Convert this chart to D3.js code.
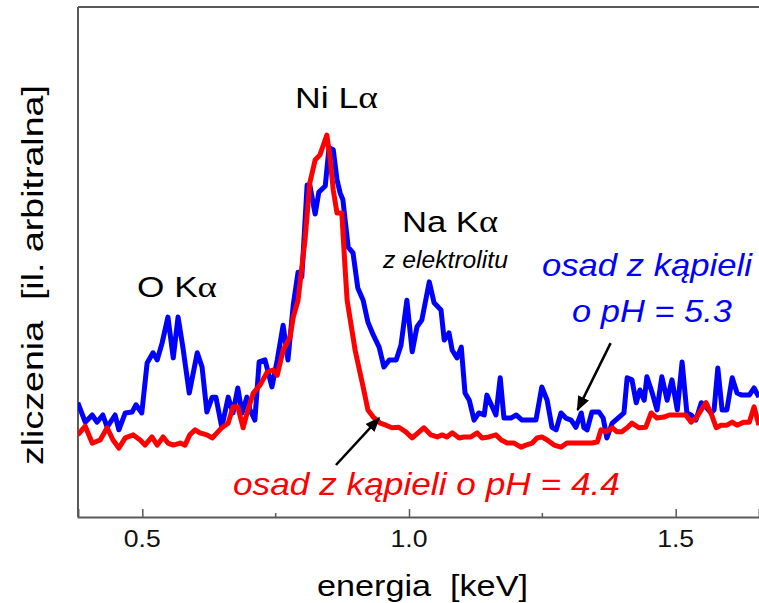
<!DOCTYPE html>
<html>
<head>
<meta charset="utf-8">
<script src="https://cdn.jsdelivr.net/npm/d3@7"></script>
<style>
  body { margin: 0; background: #fff; }
  text { font-family: "Liberation Sans", Arial, sans-serif; }
</style>
</head>
<body>
<svg id="chart" width="759" height="603"></svg>
<script>
// energy [keV] and counts [arb. units]
var blueE = [0.379,0.393,0.406,0.415,0.426,0.434,0.449,0.456,0.468,0.481,0.488,0.499,0.509,0.520,0.528,0.537,0.548,0.558,0.567,0.576,
  0.588,0.603,0.612,0.621,0.631,0.638,0.649,0.661,0.670,0.679,0.687,0.696,0.702,0.711,0.719,0.730,0.743,0.753,0.764,0.773,
  0.783,0.792,0.799,0.809,0.814,0.824,0.831,0.843,0.850,0.858,0.865,0.871,0.876,0.886,0.895,0.904,0.914,0.923,0.933,0.944,
  0.953,0.963,0.976,0.985,0.996,1.006,1.015,1.024,1.038,1.047,1.060,1.066,1.075,1.081,1.090,1.098,1.105,1.113,1.122,1.131,
  1.141,1.146,1.156,1.163,1.171,1.178,1.191,1.201,1.212,1.238,1.249,1.259,1.268,1.276,1.285,1.294,1.304,1.313,1.323,1.328,
  1.334,1.343,1.356,1.364,1.371,1.381,1.394,1.403,1.409,1.418,1.426,1.433,1.441,1.446,1.456,1.465,1.474,1.484,1.493,1.503,
  1.512,1.521,1.529,1.538,1.548,1.557,1.566,1.572,1.579,1.587,1.596,1.606,1.615,1.624,1.638,1.647,1.656];
var blueC = [22.4,18.6,20.0,18.6,20.0,17.6,20.0,17.1,20.4,20.6,22.0,20.4,30.2,32.2,30.8,34.1,39.2,31.2,39.2,33.3,
  24.3,32.2,29.4,20.6,23.5,23.5,17.6,23.5,20.4,25.3,20.4,23.5,21.0,19.0,30.4,30.8,25.5,30.8,37.6,30.8,
  41.6,48.0,47.1,65.1,65.1,59.4,63.7,64.9,72.4,72.0,66.1,63.5,62.2,52.9,51.8,44.9,42.5,38.2,35.7,33.3,
  29.4,30.8,30.8,33.7,42.5,32.4,37.3,38.6,46.1,42.0,40.6,34.7,36.1,32.7,31.2,33.3,24.3,22.9,19.0,20.4,
  20.0,23.9,21.6,20.0,27.3,19.4,19.4,20.0,19.0,19.0,25.5,22.9,17.6,17.1,20.4,19.4,19.0,17.6,20.4,17.5,
  17.1,20.6,20.6,19.4,15.5,18.4,19.6,20.4,27.3,26.9,22.4,24.9,22.9,27.5,24.3,21.0,27.5,22.9,26.9,21.0,
  30.4,20.4,20.0,19.0,22.4,21.6,20.4,21.0,29.2,21.0,21.0,27.3,24.3,23.9,23.9,25.3,23.5];

var redE = [0.379,0.393,0.406,0.421,0.434,0.445,0.456,0.468,0.483,0.496,0.505,0.518,0.528,0.539,0.548,0.558,0.571,0.580,0.589,0.599,
  0.608,0.621,0.631,0.640,0.649,0.661,0.670,0.679,0.689,0.698,0.708,0.721,0.734,0.745,0.753,0.764,0.777,0.783,0.792,0.805,
  0.814,0.824,0.833,0.846,0.852,0.858,0.865,0.874,0.880,0.884,0.899,0.914,0.923,0.933,0.946,0.957,0.968,0.981,0.994,1.006,
  1.019,1.028,1.041,1.053,1.062,1.071,1.081,1.094,1.103,1.116,1.128,1.137,1.150,1.163,1.173,1.184,1.197,1.210,1.219,1.231,
  1.240,1.249,1.259,1.272,1.285,1.296,1.309,1.332,1.343,1.353,1.360,1.369,1.381,1.390,1.399,1.409,1.418,1.431,1.444,1.454,
  1.465,1.478,1.488,1.506,1.519,1.529,1.538,1.548,1.557,1.566,1.576,1.585,1.596,1.606,1.615,1.628,1.638,1.647,1.656];
var redC = [16.1,17.8,14.5,15.1,17.5,15.1,13.5,15.5,16.1,15.1,14.1,15.7,14.1,15.7,14.5,14.1,14.5,14.1,16.1,17.1,
  16.5,16.1,15.5,16.5,17.5,18.4,21.6,21.6,17.5,21.0,24.3,25.9,28.4,28.8,27.8,32.7,35.3,39.2,42.5,54.3,
  65.5,70.0,71.0,74.9,70.4,64.1,59.6,59.6,49.0,42.5,32.7,25.5,21.0,19.6,18.4,18.0,17.5,17.6,16.7,15.5,
  16.7,17.5,16.1,15.7,16.1,15.7,16.5,15.5,15.7,15.7,16.5,15.5,15.7,16.1,15.1,14.5,14.5,13.7,14.1,14.5,
  15.5,15.7,15.1,14.1,13.7,14.5,14.5,14.5,14.5,14.7,17.1,16.7,17.5,16.7,16.7,17.5,18.4,17.5,17.6,20.4,
  19.4,19.6,20.0,20.0,20.0,18.6,19.4,21.0,22.4,20.4,17.5,18.0,18.0,18.6,18.0,18.6,18.6,21.6,18.0];

var xTicks = [0.5, 1.0, 1.5];
var xMinorTicks = [0.75, 1.25];
var xTickLabels = ["0.5", "1.0", "1.5"];

var width = 759, height = 603;
var margin = {top: 7, right: 0, bottom: 86, left: 78};
var plotW = width - margin.left - margin.right;
var plotH = height - margin.top - margin.bottom;

var svg = d3.select("#chart");

var x = d3.scaleLinear().domain([0.3794, 1.6562]).range([0, plotW]);
var y = d3.scaleLinear().domain([0, 100]).range([plotH, 0]);

var g = svg.append("g").attr("transform", "translate(" + margin.left + "," + margin.top + ")");

g.append("clipPath").attr("id", "clip")
  .append("rect").attr("width", plotW).attr("height", plotH);

// frame
var frameColor = "#5a5a5a";
g.append("line").attr("x1", 0).attr("x2", 0).attr("y1", 0).attr("y2", plotH)
  .attr("stroke", frameColor).attr("stroke-width", 2);
g.append("line").attr("x1", 0).attr("x2", plotW).attr("y1", 0).attr("y2", 0)
  .attr("stroke", frameColor).attr("stroke-width", 2);

// bottom axis, ticks pointing inwards; labels are drawn below with label()
var xAxis = d3.axisBottom(x).tickValues(xTicks).tickSize(-8).tickFormat("");
var axG = g.append("g").attr("transform", "translate(0," + plotH + ")").call(xAxis);
axG.select(".domain").attr("stroke", frameColor).attr("stroke-width", 2);
axG.selectAll(".tick line").attr("stroke", frameColor).attr("stroke-width", 1.5);

axG.selectAll(".minor").data(xMinorTicks).enter().append("line")
  .attr("class", "minor")
  .attr("x1", function(d){ return x(d); }).attr("x2", function(d){ return x(d); })
  .attr("y1", 0).attr("y2", -4)
  .attr("stroke", frameColor).attr("stroke-width", 1.5);

// spectra
var line = d3.line()
  .x(function(d){ return x(d[0]); })
  .y(function(d){ return y(d[1]); });

var lines = g.append("g").attr("clip-path", "url(#clip)");
lines.append("path").datum(d3.zip(blueE, blueC))
  .attr("d", line).attr("fill", "none")
  .attr("stroke", "#0000ff").attr("stroke-width", 5).attr("stroke-linejoin", "round");
lines.append("path").datum(d3.zip(redE, redC))
  .attr("d", line).attr("fill", "none")
  .attr("stroke", "#ff0000").attr("stroke-width", 5).attr("stroke-linejoin", "round");

// arrows
var defs = svg.append("defs");
defs.append("marker").attr("id", "arrow")
  .attr("viewBox", "0 0 10 10").attr("refX", 9).attr("refY", 5)
  .attr("markerWidth", 6).attr("markerHeight", 6).attr("orient", "auto")
  .append("path").attr("d", "M0,1 L10,5 L0,9 z").attr("fill", "#000");

var arrows = [
  {from: [0.863, 10.2], to: [0.944, 19.4]},
  {from: [1.378, 34.1], to: [1.316, 21.0]}
];
g.selectAll(".arrow").data(arrows).enter().append("line")
  .attr("class", "arrow")
  .attr("x1", function(d){ return x(d.from[0]); }).attr("y1", function(d){ return y(d.from[1]); })
  .attr("x2", function(d){ return x(d.to[0]); }).attr("y2", function(d){ return y(d.to[1]); })
  .attr("stroke", "#000").attr("stroke-width", 2.5).attr("marker-end", "url(#arrow)");

// labels: text placed at (x, baseline), stretched to the measured width
function label(parts, px, py, size, w, opts){
  opts = opts || {};
  var holder = svg.append("g");
  var t = holder.append("text").attr("font-size", size)
    .attr("fill", opts.color || "#000")
    .attr("font-style", opts.italic ? "italic" : "normal");
  parts.forEach(function(p){
    var s = t.append("tspan").text(p.t);
    if (p.greek) s.attr("font-family", "Liberation Serif, Times New Roman, serif").attr("font-size", size * 1.05);
  });
  var len = t.node().getComputedTextLength();
  var sx = w / len;
  if (opts.center) px = px - w / 2;
  holder.attr("transform", "translate(" + px + "," + py + ")" + (opts.rotate ? " rotate(-90)" : "") + " scale(" + sx + ",1)");
}

xTicks.forEach(function(d, i){
  label([{t: xTickLabels[i]}], margin.left + x(d), 547, 24, 37, {color: "#111", center: true});
});

label([{t: "Ni L"}, {t: "α", greek: true}], 295, 108, 30, 83);
label([{t: "O K"}, {t: "α", greek: true}], 137, 297, 29, 80);
label([{t: "Na K"}, {t: "α", greek: true}], 402, 232, 30, 96);
label([{t: "z elektrolitu"}], 383, 268, 23, 125, {italic: true});
label([{t: "osad z kąpieli"}], 542, 276, 32, 210, {italic: true, color: "#0000ff"});
label([{t: "o pH = 5.3"}], 572, 322, 32, 160, {italic: true, color: "#0000ff"});
label([{t: "osad z kąpieli o pH = 4.4"}], 233, 495, 32, 387, {italic: true, color: "#ff0000"});
label([{t: "energia\u00a0\u00a0[keV]"}], 317, 596, 30, 211);
label([{t: "zliczenia\u00a0\u00a0[il. arbitralna]"}], 43, 465, 30, 380, {rotate: true});
</script>
</body>
</html>
